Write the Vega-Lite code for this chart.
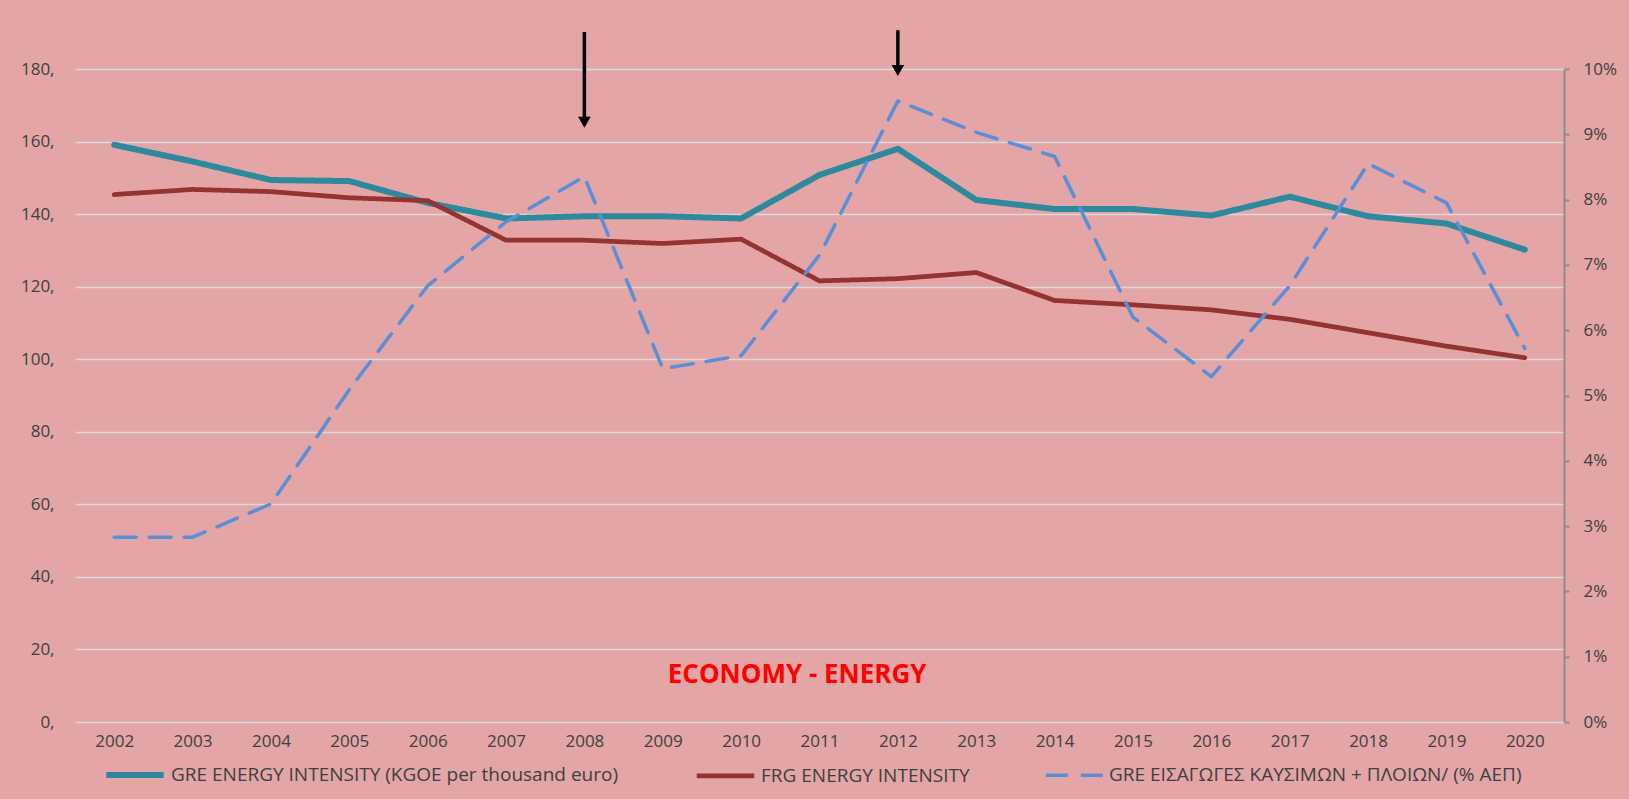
{
  "$schema": "https://vega.github.io/schema/vega-lite/v6.json",
  "width": 1489,
  "height": 653,
  "autosize": {"type": "none"},
  "padding": {"left": 75, "top": 69, "right": 65, "bottom": 77},
  "background": "#e3a5a5",
  "config": {
    "view": {"stroke": null, "fill": "#e3a5a5"},
    "font": "Open Sans",
    "axis": {"labelColor": "#404040", "labelFont": "Open Sans", "labelFontSize": 17, "gridColor": "#d9d9d9", "gridWidth": 1.5}
  },
  "datasets": {
    "intensity": [
      {"year": "2002", "series": "GRE ENERGY INTENSITY (KGOE per thousand euro)", "value": 159.1},
      {"year": "2003", "series": "GRE ENERGY INTENSITY (KGOE per thousand euro)", "value": 154.5},
      {"year": "2004", "series": "GRE ENERGY INTENSITY (KGOE per thousand euro)", "value": 149.4},
      {"year": "2005", "series": "GRE ENERGY INTENSITY (KGOE per thousand euro)", "value": 149.1},
      {"year": "2006", "series": "GRE ENERGY INTENSITY (KGOE per thousand euro)", "value": 143.1},
      {"year": "2007", "series": "GRE ENERGY INTENSITY (KGOE per thousand euro)", "value": 138.8},
      {"year": "2008", "series": "GRE ENERGY INTENSITY (KGOE per thousand euro)", "value": 139.4},
      {"year": "2009", "series": "GRE ENERGY INTENSITY (KGOE per thousand euro)", "value": 139.4},
      {"year": "2010", "series": "GRE ENERGY INTENSITY (KGOE per thousand euro)", "value": 138.8},
      {"year": "2011", "series": "GRE ENERGY INTENSITY (KGOE per thousand euro)", "value": 150.8},
      {"year": "2012", "series": "GRE ENERGY INTENSITY (KGOE per thousand euro)", "value": 158.0},
      {"year": "2013", "series": "GRE ENERGY INTENSITY (KGOE per thousand euro)", "value": 143.9},
      {"year": "2014", "series": "GRE ENERGY INTENSITY (KGOE per thousand euro)", "value": 141.4},
      {"year": "2015", "series": "GRE ENERGY INTENSITY (KGOE per thousand euro)", "value": 141.4},
      {"year": "2016", "series": "GRE ENERGY INTENSITY (KGOE per thousand euro)", "value": 139.6},
      {"year": "2017", "series": "GRE ENERGY INTENSITY (KGOE per thousand euro)", "value": 144.8},
      {"year": "2018", "series": "GRE ENERGY INTENSITY (KGOE per thousand euro)", "value": 139.4},
      {"year": "2019", "series": "GRE ENERGY INTENSITY (KGOE per thousand euro)", "value": 137.4},
      {"year": "2020", "series": "GRE ENERGY INTENSITY (KGOE per thousand euro)", "value": 130.2},
      {"year": "2002", "series": "FRG ENERGY INTENSITY", "value": 145.4},
      {"year": "2003", "series": "FRG ENERGY INTENSITY", "value": 146.8},
      {"year": "2004", "series": "FRG ENERGY INTENSITY", "value": 146.2},
      {"year": "2005", "series": "FRG ENERGY INTENSITY", "value": 144.5},
      {"year": "2006", "series": "FRG ENERGY INTENSITY", "value": 143.7},
      {"year": "2007", "series": "FRG ENERGY INTENSITY", "value": 132.8},
      {"year": "2008", "series": "FRG ENERGY INTENSITY", "value": 132.8},
      {"year": "2009", "series": "FRG ENERGY INTENSITY", "value": 131.9},
      {"year": "2010", "series": "FRG ENERGY INTENSITY", "value": 133.1},
      {"year": "2011", "series": "FRG ENERGY INTENSITY", "value": 121.6},
      {"year": "2012", "series": "FRG ENERGY INTENSITY", "value": 122.2},
      {"year": "2013", "series": "FRG ENERGY INTENSITY", "value": 123.9},
      {"year": "2014", "series": "FRG ENERGY INTENSITY", "value": 116.2},
      {"year": "2015", "series": "FRG ENERGY INTENSITY", "value": 115.0},
      {"year": "2016", "series": "FRG ENERGY INTENSITY", "value": 113.6},
      {"year": "2017", "series": "FRG ENERGY INTENSITY", "value": 111.0},
      {"year": "2018", "series": "FRG ENERGY INTENSITY", "value": 107.3},
      {"year": "2019", "series": "FRG ENERGY INTENSITY", "value": 103.6},
      {"year": "2020", "series": "FRG ENERGY INTENSITY", "value": 100.4}
    ],
    "imports": [
      {"year": "2002", "series": "GRE ΕΙΣΑΓΩΓΕΣ ΚΑΥΣΙΜΩΝ + ΠΛΟΙΩΝ/ (% ΑΕΠ)", "pct": 2.83},
      {"year": "2003", "series": "GRE ΕΙΣΑΓΩΓΕΣ ΚΑΥΣΙΜΩΝ + ΠΛΟΙΩΝ/ (% ΑΕΠ)", "pct": 2.83},
      {"year": "2004", "series": "GRE ΕΙΣΑΓΩΓΕΣ ΚΑΥΣΙΜΩΝ + ΠΛΟΙΩΝ/ (% ΑΕΠ)", "pct": 3.34},
      {"year": "2005", "series": "GRE ΕΙΣΑΓΩΓΕΣ ΚΑΥΣΙΜΩΝ + ΠΛΟΙΩΝ/ (% ΑΕΠ)", "pct": 5.09},
      {"year": "2006", "series": "GRE ΕΙΣΑΓΩΓΕΣ ΚΑΥΣΙΜΩΝ + ΠΛΟΙΩΝ/ (% ΑΕΠ)", "pct": 6.68},
      {"year": "2007", "series": "GRE ΕΙΣΑΓΩΓΕΣ ΚΑΥΣΙΜΩΝ + ΠΛΟΙΩΝ/ (% ΑΕΠ)", "pct": 7.66},
      {"year": "2008", "series": "GRE ΕΙΣΑΓΩΓΕΣ ΚΑΥΣΙΜΩΝ + ΠΛΟΙΩΝ/ (% ΑΕΠ)", "pct": 8.35},
      {"year": "2009", "series": "GRE ΕΙΣΑΓΩΓΕΣ ΚΑΥΣΙΜΩΝ + ΠΛΟΙΩΝ/ (% ΑΕΠ)", "pct": 5.41},
      {"year": "2010", "series": "GRE ΕΙΣΑΓΩΓΕΣ ΚΑΥΣΙΜΩΝ + ΠΛΟΙΩΝ/ (% ΑΕΠ)", "pct": 5.61},
      {"year": "2011", "series": "GRE ΕΙΣΑΓΩΓΕΣ ΚΑΥΣΙΜΩΝ + ΠΛΟΙΩΝ/ (% ΑΕΠ)", "pct": 7.15},
      {"year": "2012", "series": "GRE ΕΙΣΑΓΩΓΕΣ ΚΑΥΣΙΜΩΝ + ΠΛΟΙΩΝ/ (% ΑΕΠ)", "pct": 9.51},
      {"year": "2013", "series": "GRE ΕΙΣΑΓΩΓΕΣ ΚΑΥΣΙΜΩΝ + ΠΛΟΙΩΝ/ (% ΑΕΠ)", "pct": 9.03},
      {"year": "2014", "series": "GRE ΕΙΣΑΓΩΓΕΣ ΚΑΥΣΙΜΩΝ + ΠΛΟΙΩΝ/ (% ΑΕΠ)", "pct": 8.66},
      {"year": "2015", "series": "GRE ΕΙΣΑΓΩΓΕΣ ΚΑΥΣΙΜΩΝ + ΠΛΟΙΩΝ/ (% ΑΕΠ)", "pct": 6.2},
      {"year": "2016", "series": "GRE ΕΙΣΑΓΩΓΕΣ ΚΑΥΣΙΜΩΝ + ΠΛΟΙΩΝ/ (% ΑΕΠ)", "pct": 5.29},
      {"year": "2017", "series": "GRE ΕΙΣΑΓΩΓΕΣ ΚΑΥΣΙΜΩΝ + ΠΛΟΙΩΝ/ (% ΑΕΠ)", "pct": 6.68},
      {"year": "2018", "series": "GRE ΕΙΣΑΓΩΓΕΣ ΚΑΥΣΙΜΩΝ + ΠΛΟΙΩΝ/ (% ΑΕΠ)", "pct": 8.55},
      {"year": "2019", "series": "GRE ΕΙΣΑΓΩΓΕΣ ΚΑΥΣΙΜΩΝ + ΠΛΟΙΩΝ/ (% ΑΕΠ)", "pct": 7.95},
      {"year": "2020", "series": "GRE ΕΙΣΑΓΩΓΕΣ ΚΑΥΣΙΜΩΝ + ΠΛΟΙΩΝ/ (% ΑΕΠ)", "pct": 5.72}
    ],
    "arrows": [
      {"year": "2008", "top": 190.2, "head": 165.3},
      {"year": "2012", "top": 190.7, "head": 179.6}
    ],
    "label": [
      {"year": "2010", "value": 13, "text": "ECONOMY - ENERGY"}
    ]
  },
  "layer": [
    {
      "layer": [
        {
          "data": {"name": "intensity"},
          "mark": {"type": "line", "strokeCap": "round", "strokeJoin": "round"},
          "encoding": {
            "x": {"field": "year", "type": "ordinal", "scale": {"type": "point", "padding": 0.5},
                  "axis": {"title": null, "labelAngle": 0, "ticks": false, "domain": false, "labelPadding": 11}},
            "y": {"field": "value", "type": "quantitative", "scale": {"domain": [0, 180], "nice": false},
                  "axis": {"title": null, "values": [0,20,40,60,80,100,120,140,160,180], "labelExpr": "datum.label + ','", "ticks": false, "domain": false, "labelPadding": 21}},
            "color": {"field": "series", "type": "nominal",
                      "scale": {"domain": ["GRE ENERGY INTENSITY (KGOE per thousand euro)", "FRG ENERGY INTENSITY", "GRE ΕΙΣΑΓΩΓΕΣ ΚΑΥΣΙΜΩΝ + ΠΛΟΙΩΝ/ (% ΑΕΠ)"], "range": ["#2e899d", "#953232", "#5a8fd8"]},
                      "legend": {"title": null, "orient": "none", "legendX": 28, "legendY": 674, "direction": "horizontal", "symbolType": "stroke", "symbolSize": 3300, "symbolStrokeWidth": 5, "labelFontSize": 19, "labelColor": "#404040", "labelFont": "Open Sans", "columnPadding": 68, "labelLimit": 700}},
            "strokeDash": {"field": "series", "type": "nominal",
                      "scale": {"domain": ["GRE ENERGY INTENSITY (KGOE per thousand euro)", "FRG ENERGY INTENSITY", "GRE ΕΙΣΑΓΩΓΕΣ ΚΑΥΣΙΜΩΝ + ΠΛΟΙΩΝ/ (% ΑΕΠ)"], "range": [[1, 0], [1, 0], [22, 13]]},
                      "legend": {"title": null, "orient": "none", "legendX": 28, "legendY": 674, "direction": "horizontal", "symbolType": "stroke", "symbolSize": 3300, "symbolStrokeWidth": 5, "labelFontSize": 19, "labelColor": "#404040", "labelFont": "Open Sans", "columnPadding": 68, "labelLimit": 700}},
            "strokeWidth": {"field": "series", "type": "nominal",
                      "scale": {"domain": ["GRE ENERGY INTENSITY (KGOE per thousand euro)", "FRG ENERGY INTENSITY", "GRE ΕΙΣΑΓΩΓΕΣ ΚΑΥΣΙΜΩΝ + ΠΛΟΙΩΝ/ (% ΑΕΠ)"], "range": [6, 3.5, 6]},
                      "legend": null}
          }
        },
        {
          "data": {"name": "arrows"},
          "mark": {"type": "rule", "color": "#000000", "strokeWidth": 3.5},
          "encoding": {
            "x": {"field": "year", "type": "ordinal"},
            "y": {"field": "top", "type": "quantitative"},
            "y2": {"field": "head"}
          }
        },
        {
          "data": {"name": "arrows"},
          "mark": {"type": "point", "shape": "triangle-down", "filled": true, "color": "#000000", "size": 160, "opacity": 1},
          "encoding": {
            "x": {"field": "year", "type": "ordinal"},
            "y": {"field": "head", "type": "quantitative"}
          }
        },
        {
          "data": {"name": "label"},
          "mark": {"type": "text", "color": "#ff0000", "fontWeight": "bold", "fontSize": 26, "font": "Open Sans", "dx": 56, "align": "center", "baseline": "middle"},
          "encoding": {
            "x": {"field": "year", "type": "ordinal"},
            "y": {"field": "value", "type": "quantitative"},
            "text": {"field": "text"}
          }
        }
      ]
    },
    {
      "data": {"name": "imports"},
      "mark": {"type": "line", "strokeCap": "round", "strokeJoin": "round"},
      "encoding": {
        "x": {"field": "year", "type": "ordinal"},
        "y": {"field": "pct", "type": "quantitative", "scale": {"domain": [0, 10], "nice": false},
              "axis": {"title": null, "orient": "right", "values": [0,1,2,3,4,5,6,7,8,9,10], "labelExpr": "datum.value + '%'", "grid": false, "domain": true, "domainColor": "#8c8c8c", "domainWidth": 2, "tickColor": "#8c8c8c", "tickWidth": 2, "tickSize": 5, "labelPadding": 14}},
        "color": {"field": "series", "type": "nominal"},
        "strokeDash": {"field": "series", "type": "nominal"},
        "strokeWidth": {"field": "series", "type": "nominal"}
      }
    }
  ],
  "resolve": {"scale": {"y": "independent"}}
}
